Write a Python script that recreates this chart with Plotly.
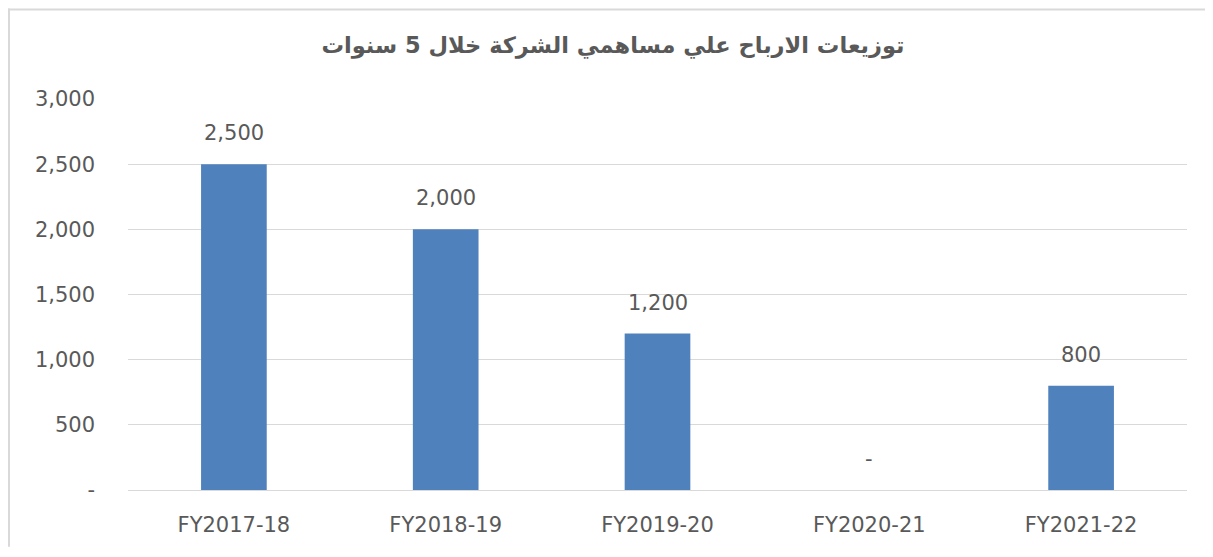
import plotly.graph_objects as go

categories = ["FY2017-18", "FY2018-19", "FY2019-20", "FY2020-21", "FY2021-22"]
values = [2500, 2000, 1200, 0, 800]
y_tickvals = [0, 500, 1000, 1500, 2000, 2500, 3000]
y_ticktext = ["-", "500", "1,000", "1,500", "2,000", "2,500", "3,000"]
title_text = "توزيعات الارباح علي مساهمي الشركة خلال 5 سنوات"

labels = [f"{v:,}" if v else "-" for v in values]

font_fam = "'DejaVu Sans', sans-serif"
grey = "#595959"

W, H = 1197, 541
L, R, T, B = 120, 18, 91, 57
pw, ph = W - L - R, H - T - B

fig = go.Figure()
fig.add_trace(go.Bar(
    x=categories, y=values,
    marker=dict(color="#4F81BD", line=dict(width=0)),
    width=0.31,
    hoverinfo="skip",
))

for c, v, t in zip(categories, values, labels):
    fig.add_annotation(x=c, y=v, text=t, showarrow=False, yanchor="bottom",
                       yshift=17, font=dict(family=font_fam, size=21, color=grey))

fig.update_layout(
    width=W, height=H,
    margin=dict(l=L, r=R, t=T, b=B),
    paper_bgcolor="white", plot_bgcolor="white",
    showlegend=False,
    title=dict(text="<b>" + title_text + "</b>", x=605 / W, xanchor="center",
               y=1 - 37 / H, yanchor="middle",
               font=dict(family="DejaVu Sans, sans-serif", size=22.5, color=grey)),
    xaxis=dict(showgrid=False, showline=True, linecolor="#D9D9D9", linewidth=1,
               tickfont=dict(family=font_fam, size=21, color=grey),
               ticks="", ticklabelstandoff=16),
    yaxis=dict(range=[0, 3000], tickvals=y_tickvals, ticktext=y_ticktext,
               showgrid=True, gridcolor="#D9D9D9", gridwidth=1,
               zeroline=False, showline=False, ticks="",
               tickfont=dict(family=font_fam, size=21, color=grey),
               ticklabelstandoff=32),
    shapes=[
        dict(type="line", xref="paper", yref="paper",
             x0=(0 - L) / pw, x1=(W - L) / pw, y0=1 + (T - 1) / ph, y1=1 + (T - 1) / ph,
             line=dict(color="#D9D9D9", width=2)),
        dict(type="line", xref="paper", yref="paper",
             x0=(1 - L) / pw, x1=(1 - L) / pw, y0=1 + T / ph, y1=-B / ph,
             line=dict(color="#D9D9D9", width=2)),
    ],
)

fig.write_html("out.html")
